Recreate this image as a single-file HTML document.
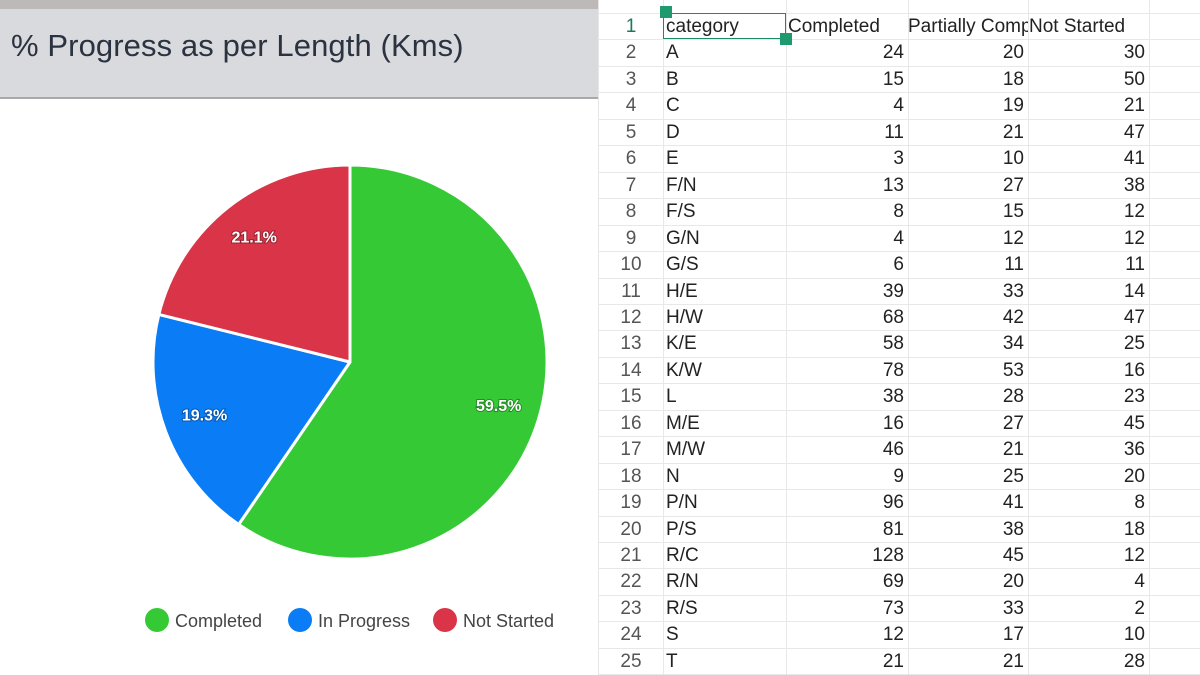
<!DOCTYPE html>
<html><head><meta charset="utf-8">
<style>
body{margin:0;width:1200px;height:675px;overflow:hidden;background:#fff;font-family:"Liberation Sans",sans-serif;position:relative}
#left{position:absolute;left:0;top:0;width:598px;height:675px;background:#fff}
#topbar{position:absolute;left:0;top:0;width:598px;height:9px;background:#bdb9b8}
#header{position:absolute;left:0;top:9px;width:598px;height:88px;background:#d9dadd;border-bottom:2px solid #a9a9a9}
#title{position:absolute;left:11px;top:19px;font-size:31px;color:#2b3240;letter-spacing:0.1px;white-space:nowrap}
#sheet{position:absolute;left:598px;top:0;width:602px;height:675px;border-left:1px solid #e6e6e6}
.cell{position:absolute;font-size:19px;color:#222;line-height:26px;white-space:nowrap;overflow:visible}
</style></head><body>
<div id="left">
<div id="topbar"></div>
<div id="header"><div id="title">% Progress as per Length (Kms)</div></div>
<svg id="pie" width="598" height="675" style="position:absolute;left:0;top:0"></svg>
</div>
<div id="sheet"></div>
<script>
const sliceLabels=["Completed","In Progress","Not Started"];
const sliceValues=[59.5,19.3,21.1];
const sliceColors=["#36c936","#0a7cf5","#d93447"];
const rowCats=["A","B","C","D","E","F/N","F/S","G/N","G/S","H/E","H/W","K/E","K/W","L","M/E","M/W","N","P/N","P/S","R/C","R/N","R/S","S","T"];
const colCompleted=[24,15,4,11,3,13,8,4,6,39,68,58,78,38,16,46,9,96,81,128,69,73,12,21];
const colPartial=[20,18,19,21,10,27,15,12,11,33,42,34,53,28,27,21,25,41,38,45,20,33,17,21];
const colNotStarted=[30,50,21,47,41,38,12,12,11,14,47,25,16,23,45,36,20,8,18,12,4,2,10,28];

const NS="http://www.w3.org/2000/svg";
const svg=document.getElementById('pie');
const cx=350,cy=362,R=197;
const total=sliceValues.reduce((a,b)=>a+b,0);
let a0=-Math.PI/2;
sliceValues.forEach((v,i)=>{
  const a1=a0+v/total*2*Math.PI;
  const large=(a1-a0)>Math.PI?1:0;
  const p=document.createElementNS(NS,'path');
  p.setAttribute('d',`M${cx},${cy} L${cx+R*Math.cos(a0)},${cy+R*Math.sin(a0)} A${R},${R} 0 ${large} 1 ${cx+R*Math.cos(a1)},${cy+R*Math.sin(a1)} Z`);
  p.setAttribute('fill',sliceColors[i]);p.setAttribute('stroke','#fff');p.setAttribute('stroke-width','3');p.setAttribute('stroke-linejoin','round');
  
  
  svg.appendChild(p);
  const am=(a0+a1)/2,rl=R*0.79;
  const t=document.createElementNS(NS,'text');
  t.setAttribute('x',cx+rl*Math.cos(am));t.setAttribute('y',cy+rl*Math.sin(am)+3);
  t.setAttribute('text-anchor','middle');t.setAttribute('fill','#fff');t.setAttribute('font-size','16');t.setAttribute('font-weight','bold');
  t.setAttribute('style','paint-order:stroke;stroke:rgba(0,0,0,0.3);stroke-width:2px');
  t.textContent=v.toFixed(1)+'%';
  
  
  svg.appendChild(t);
  a0=a1;
});
const legX=[157,300,445];
sliceLabels.forEach((l,i)=>{
  const g=document.createElementNS(NS,'g');
  
  
  const c=document.createElementNS(NS,'circle');
  c.setAttribute('cx',legX[i]);c.setAttribute('cy',620);c.setAttribute('r',12);c.setAttribute('fill',sliceColors[i]);
  g.appendChild(c);
  const t=document.createElementNS(NS,'text');
  t.setAttribute('x',legX[i]+18);t.setAttribute('y',627);t.setAttribute('font-size','18');t.setAttribute('fill','#444');
  t.textContent=l;g.appendChild(t);svg.appendChild(g);
});

// spreadsheet
const sh=document.getElementById('sheet');
const rowH=26.45,top0=13;
const colL=[0,64,187,309,429,550];
let html='';
for(let r=0;r<=25;r++){const y=top0+r*rowH;html+=`<div style="position:absolute;left:0;top:${y}px;width:602px;height:1px;background:#e8e8e8"></div>`;}
for(let c=1;c<colL.length;c++){html+=`<div style="position:absolute;left:${colL[c]}px;top:0;width:1px;height:675px;background:#e8e8e8"></div>`;}
sh.innerHTML=html;
function cell(txt,x,y,w,align,color,name){
  const d=document.createElement('div');d.className='cell';
  d.style.left=x+'px';d.style.top=(y+1)+'px';d.style.width=w+'px';d.style.textAlign=align;d.style.color=color||'#222';
  d.textContent=txt;
  
  
  sh.appendChild(d);
}
const hy=top0;
cell('1',0,hy,64,'center','#1a7a5a','row-number');
cell('category',67,hy,120,'left','#222','header-category');
cell('Completed',189,hy,120,'left','#222','header-completed');
const pc=document.createElement('div');pc.className='cell';
pc.style.cssText=`left:309px;top:${hy+1}px;width:120px;overflow:hidden`;
pc.textContent='Partially Compl';


sh.appendChild(pc);
cell('Not Started',430,hy,120,'left','#222','header-not-started');
rowCats.forEach((c,i)=>{
  const y=top0+(i+1)*rowH;
  cell(String(i+2),0,y,64,'center','#555','row-number');
  cell(c,67,y,118,'left','#222','category-cell');
  cell(colCompleted[i],187,y,118,'right','#222','completed-cell');
  cell(colPartial[i],309,y,116,'right','#222','partial-cell');
  cell(colNotStarted[i],429,y,117,'right','#222','not-started-cell');
});
const sel=document.createElement('div');
sel.style.cssText=`position:absolute;left:64px;top:${top0}px;width:123px;height:${rowH}px;border:1px solid #1e8a63;box-sizing:border-box`;


sh.appendChild(sel);
[[61,top0-7],[181,top0+rowH-6]].forEach(p=>{const h=document.createElement('div');h.style.cssText=`position:absolute;left:${p[0]}px;top:${p[1]}px;width:12px;height:12px;background:#1e9a6e`;


sh.appendChild(h);});
</script>
</body></html>
